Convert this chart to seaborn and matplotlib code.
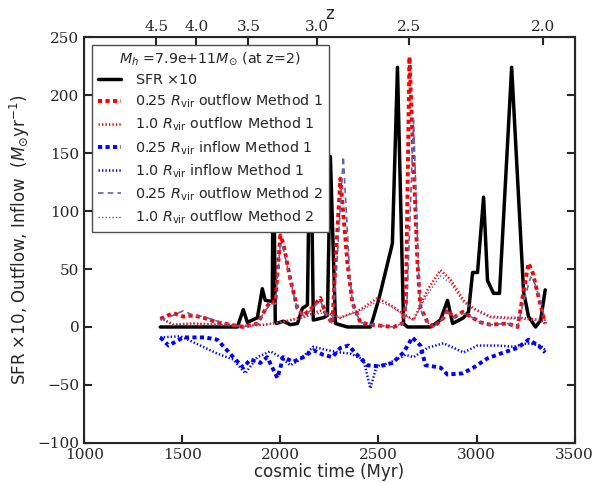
import numpy as np
import pandas as pd
from matplotlib import pyplot as plt
import seaborn as sns

# cosmic time (Myr) and values for each curve
t_sfr = [1388, 1781, 1811, 1832, 1883, 1908, 1923, 1959, 1964, 1974, 1980, 2015, 2051, 2087, 2112, 2138,
         2153, 2168, 2219, 2240, 2255, 2281, 2342, 2459, 2474, 2505, 2571, 2597, 2628, 2648, 2765, 2816,
         2852, 2878, 2934, 2959, 2980, 3005, 3036, 3056, 3087, 3117, 3179, 3240, 3265, 3301, 3327, 3350]
sfr = [0, 0, 15, 4, 8, 33, 23, 22, 185, 5, 3, 5, 2, 3, 16, 19,
       200, 6, 8, 10, 147, 3, 0, 0, 8, 26, 72, 224, 3, 0, 0, 6,
       23, 3, 8, 13, 47, 47, 112, 40, 29, 29, 224, 30, 9, 0, 6, 32]

t_out25 = [1388, 1454, 1505, 1556, 1607, 1679, 1745, 1811, 1883, 1923, 1949, 1974, 2000, 2015, 2051, 2087,
           2117, 2153, 2204, 2230, 2265, 2281, 2306, 2342, 2367, 2408, 2459, 2577, 2622, 2640, 2658, 2699,
           2714, 2750, 2781, 2832, 2852, 2883, 2929, 2959, 3020, 3071, 3158, 3209, 3235, 3265, 3286, 3316, 3350]
out25 = [7, 12, 9, 10, 8, 4, 2, 0, 3, 15, 22, 21, 79, 72, 41, 16,
         10, 15, 25, 12, 3, 55, 128, 55, 21, 4, 2, 0, 3, 20, 233, 55,
         17, 4, 0, 8, 15, 8, 13, 10, 4, 2, 3, 0, 26, 55, 47, 26, 3]

t_out100 = [1388, 1454, 1556, 1679, 1811, 1923, 2000, 2100, 2204, 2306, 2408, 2495, 2561, 2622, 2679,
            2750, 2816, 2867, 2934, 2985, 3071, 3158, 3224, 3327, 3350]
out100 = [8, 2, 3, 2, 1, 2, 4, 8, 14, 8, 15, 25, 19, 12, 6,
          32, 49, 41, 23, 16, 9, 8, 8, 6, 3]

t_in25 = [1388, 1430, 1505, 1556, 1617, 1679, 1760, 1811, 1847, 1898, 1933, 1985, 2015, 2066, 2117, 2168,
          2219, 2265, 2306, 2347, 2408, 2444, 2505, 2571, 2628, 2673, 2714, 2740, 2816, 2852, 2929, 2985,
          3056, 3138, 3209, 3265, 3316, 3350]
in25 = [-9, -16, -9, -9, -9, -11, -26, -35, -28, -31, -26, -44, -26, -30, -26, -20,
        -24, -26, -18, -16, -27, -33, -34, -31, -22, -9, -16, -33, -35, -41, -40, -35,
        -27, -22, -18, -11, -16, -22]

t_in100 = [1388, 1490, 1592, 1679, 1760, 1821, 1883, 1949, 2000, 2051, 2102, 2168, 2240, 2306, 2357, 2423,
           2459, 2490, 2556, 2638, 2679, 2750, 2832, 2934, 3005, 3107, 3189, 3260, 3327, 3350]
in100 = [-9, -8, -16, -23, -28, -40, -26, -21, -26, -33, -28, -17, -20, -22, -23, -28,
         -53, -34, -31, -24, -26, -18, -14, -22, -16, -16, -17, -14, -16, -20]

t_out25_m2 = [1388, 1454, 1505, 1556, 1607, 1679, 1745, 1811, 1883, 1923, 1949, 1974, 2000, 2015, 2051, 2087,
              2117, 2153, 2204, 2230, 2265, 2290, 2321, 2352, 2367, 2408, 2459, 2577, 2622, 2645, 2679, 2704,
              2714, 2750, 2781, 2832, 2852, 2883, 2929, 2959, 3020, 3071, 3158, 3209, 3240, 3276, 3296, 3330, 3350]
out25_m2 = [6, 10, 14, 10, 9, 5, 2, 0, 3, 14, 20, 20, 72, 68, 40, 15,
            10, 14, 23, 12, 3, 60, 147, 50, 20, 4, 2, 0, 3, 20, 178, 50,
            15, 4, 0, 8, 13, 8, 12, 10, 4, 2, 3, 0, 22, 43, 38, 20, 5]

t_out100_m2 = [1388, 1454, 1556, 1679, 1811, 1923, 2000, 2100, 2204, 2306, 2408, 2495, 2561, 2622, 2679,
               2750, 2816, 2867, 2934, 2985, 3071, 3158, 3224, 3327, 3350]
out100_m2 = [7, 2, 3, 2, 1, 2, 4, 7, 12, 8, 14, 22, 18, 11, 6,
             28, 44, 38, 21, 15, 8, 7, 7, 5, 3]

z_ticks = ['4.5', '4.0', '3.5', '3.0', '2.5', '2.0']
z_times = [1367, 1571, 1837, 2189, 2658, 3337]

sns.set_style('ticks')
plt.rcParams['font.family'] = ['DejaVu Sans']
plt.rcParams['lines.scale_dashes'] = False

fig, ax = plt.subplots(figsize=(6.1, 4.83), dpi=100)
fig.subplots_adjust(left=0.138, right=0.942, bottom=0.083, top=0.923)

m2_color = (0.38, 0.38, 0.68)
dash_thick = (0, (3, 2.4))
dash_thin = (0, (4, 3))
dot = (0, (1, 1.5))
series = [
    (t_sfr, sfr, 'SFR $\\times$10', 'black', '-', 2.5),
    (t_out25, out25, '0.25 $R_{\\rm vir}$ outflow Method 1', 'red', dash_thick, 2.8),
    (t_out100, out100, '1.0 $R_{\\rm vir}$ outflow Method 1', 'red', dot, 1.8),
    (t_in25, in25, '0.25 $R_{\\rm vir}$ inflow Method 1', 'blue', dash_thick, 2.8),
    (t_in100, in100, '1.0 $R_{\\rm vir}$ inflow Method 1', 'blue', dot, 1.8),
    (t_out25_m2, out25_m2, '0.25 $R_{\\rm vir}$ outflow Method 2', m2_color, dash_thin, 1.2),
    (t_out100_m2, out100_m2, '1.0 $R_{\\rm vir}$ outflow Method 2', m2_color, dot, 1.0),
]
for t, v, lab, col, ls, lw in series:
    sns.lineplot(x=t, y=v, ax=ax, label=lab, color=col, linestyle=ls, linewidth=lw)

ax.set_xlim(1000, 3500)
ax.set_ylim(-100, 250)
ax.set_xticks(np.arange(1000, 3501, 500))
ax.set_yticks(np.arange(-100, 251, 50))
ax.tick_params(direction='in', length=6, width=1.5, labelsize=11, right=True)
for lbl in ax.get_xticklabels() + ax.get_yticklabels():
    lbl.set_family('DejaVu Serif')
for s in ax.spines.values():
    s.set_linewidth(1.5)
ax.set_xlabel('cosmic time (Myr)', fontsize=12, labelpad=1)
ax.set_ylabel('SFR $\\times$10, Outflow, Inflow  $(M_{\\odot}{\\rm yr}^{-1})$', fontsize=12)

ax2 = ax.twiny()
ax2.set_xlim(ax.get_xlim())
ax2.set_xticks(z_times)
ax2.set_xticklabels(z_ticks)
ax2.tick_params(direction='in', length=6, width=1.5, labelsize=11, pad=2)
for lbl in ax2.get_xticklabels():
    lbl.set_family('DejaVu Serif')
ax2.set_xlabel('z', fontsize=12, labelpad=1)

leg = ax.legend(loc='upper left', title='$M_h$ =7.9e+11$M_{\\odot}$ (at z=2)', fontsize=10.3,
                title_fontsize=10.3, frameon=True, fancybox=False, handlelength=1.6,
                handletextpad=1.0, borderaxespad=0.55, labelspacing=0.4)
leg.get_frame().set_edgecolor('0.3')
leg.get_frame().set_alpha(1)

fig.savefig('out.png', dpi=100)
